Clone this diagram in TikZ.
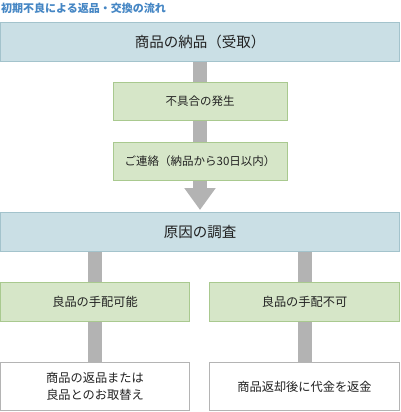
\documentclass[tikz,border=0pt]{standalone}
\usepackage{fontspec}
\newfontfamily\jp{Noto Sans CJK JP}
\usepackage{tikz}
\usetikzlibrary{arrows.meta,positioning}

\definecolor{headblue}{HTML}{CADFE5}
\definecolor{headline}{HTML}{A3C3CC}
\definecolor{stepgreen}{HTML}{D6E6C8}
\definecolor{stepline}{HTML}{A9C98F}
\definecolor{endline}{HTML}{B4B4B4}
\definecolor{bargray}{HTML}{B3B3B3}
\definecolor{titleblue}{HTML}{4586C4}
\definecolor{inktext}{HTML}{222222}

\begin{document}
\begin{tikzpicture}[
    x=1pt, y=-1pt,
    font=\jp, text=inktext,
    box/.style={draw, line width=1pt, align=center, inner sep=0pt},
    headbox/.style={box, fill=headblue, draw=headline, minimum width=399pt, minimum height=39pt, font=\jp\fontsize{14.5}{17}\selectfont},
    stepbox/.style={box, fill=stepgreen, draw=stepline, minimum height=38pt, font=\jp\fontsize{11.5}{13}\selectfont},
    endbox/.style={box, fill=white, draw=endline, minimum width=189pt, minimum height=48pt, font=\jp\fontsize{12.2}{17}\selectfont},
    bar/.style={draw=bargray, line width=14pt},
    bararrow/.style={bar, -{Triangle[width=30pt, length=22pt]}}
]
\useasboundingbox (0,0) rectangle (400,412);

% --- title ---
\node[anchor=west, inner sep=0pt, text=titleblue, font=\jp\bfseries\fontsize{11}{12}\selectfont] (title) at (1,8) {初期不良による返品・交換の流れ};

% --- main flow ---
\node[headbox] (receive) at (200,42) {商品の納品（受取）};
\node[stepbox, minimum width=174pt] (occur) at (200,101) {不具合の発生};
\node[stepbox, minimum width=174pt] (contact) at (200,161) {ご連絡（納品から30日以内）};
\node[headbox] (cause) at (200,232) {原因の調査};

% --- two outcomes ---
\node[stepbox, minimum width=189pt, minimum height=39pt, font=\jp\fontsize{12.2}{14}\selectfont] (ok) at (95,302) {良品の手配可能};
\node[stepbox, minimum width=190pt, minimum height=39pt, font=\jp\fontsize{12.2}{14}\selectfont] (ng) at (304.5,302) {良品の手配不可};
\node[endbox] (swap) at (95,386.5) {商品の返品または\\良品とのお取替え};
\node[endbox, minimum width=190pt] (refund) at (304.5,386.5) {商品返却後に代金を返金};

% connectors
\draw[bar] (receive) -- (occur);
\draw[bar] (occur) -- (contact);
\draw[bararrow, shorten >=2pt] (contact) -- (cause);
\draw[bar] (ok.north |- cause.south) -- (ok.north);
\draw[bar] (ng.north |- cause.south) -- (ng.north);
\draw[bar] (ok) -- (swap);
\draw[bar] (ng) -- (refund);

\end{tikzpicture}
\end{document}
